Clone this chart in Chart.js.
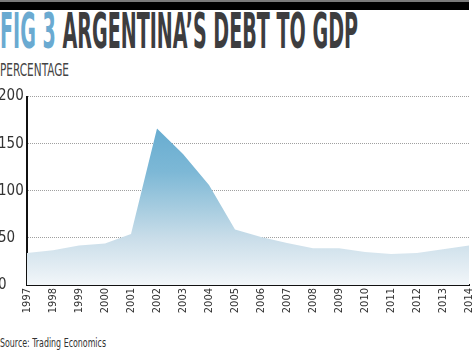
<!DOCTYPE html>
<html>
<head>
<meta charset="utf-8">
<script src="https://cdn.jsdelivr.net/npm/chart.js@4.4.1/dist/chart.umd.min.js"></script>
<style>
  body { margin: 0; width: 474px; height: 351px; overflow: hidden; background: #fff; position: relative;
         font-family: 'Liberation Sans Narrow', 'DejaVu Sans Condensed', 'Roboto', sans-serif; }
  #bar { position: absolute; left: 0; top: 0; width: 469px; height: 8px; border-top: 2px solid #7a7a7a; background: #000; }
  .fit { position: absolute; left: 0; white-space: nowrap; transform-origin: 0 0; }
  #title { top: 5.5px; font-size: 50px; line-height: 50px; font-weight: bold; color: #3d3d3f; }
  #title span { color: #6aaad1; }
  #sub { top: 61px; font-size: 18px; line-height: 18px; color: #444; }
  #source { top: 335.5px; font-size: 13px; line-height: 13px; color: #333; }
  #wrap { position: absolute; left: -2px; top: 85px; width: 476px; height: 235px; }
</style>
</head>
<body>
<div id="bar"></div>
<div id="title" class="fit" data-w="358"><span>FIG 3</span> ARGENTINA’S DEBT TO GDP</div>
<div id="sub" class="fit" data-w="69">PERCENTAGE</div>
<div id="source" class="fit" data-w="106">Source: Trading Economics</div>
<div id="wrap"><canvas id="myChart" width="476" height="235"></canvas></div>

<script>
'use strict';

// values
const years = ['1997', '1998', '1999', '2000', '2001', '2002', '2003', '2004', '2005',
               '2006', '2007', '2008', '2009', '2010', '2011', '2012', '2013', '2014'];
const debtToGdp = [34, 37, 42, 44, 54, 166, 139, 106, 59, 51, 44.5, 39, 39, 35, 33, 34, 38, 42];
const yTicks = [0, 50, 100, 150, 200];

const FONT = "'Liberation Sans Narrow', 'DejaVu Sans Condensed', 'Roboto', sans-serif";

// squeeze the heading texts to the widths in the picture
document.querySelectorAll('.fit').forEach(el => {
    let w = el.getBoundingClientRect().width;
    el.style.transform = 'scaleX(' + (el.dataset.w / w) + ')';
});

function areaFill(context) {
    let area = context.chart.chartArea;
    if (!area) return '#9cc6dd';
    let g = context.chart.ctx.createLinearGradient(0, area.top, 0, area.bottom);
    g.addColorStop(0, '#58a4cc');
    g.addColorStop(0.4, '#7db8d6');
    g.addColorStop(0.6, '#a8cde0');
    g.addColorStop(0.75, '#c9dde9');
    g.addColorStop(1, '#f2f6f9');
    return g;
}

let chartInstance = new Chart(document.getElementById('myChart'), {
    type: 'line',
    data: {
        labels: years,
        datasets: [{
            label: 'Debt to GDP',
            data: debtToGdp,
            fill: 'origin',
            backgroundColor: areaFill,
            borderWidth: 0,
            pointRadius: 0,
            tension: 0
        }]
    },
    options: {
        responsive: false,
        animation: false,
        layout: { padding: { top: 11.5, right: 5, bottom: 0, left: 0 } },
        plugins: { legend: { display: false }, tooltip: { enabled: false } },
        scales: {
            x: {
                z: 1,
                grid: { display: false, drawTicks: false },
                border: { display: true, color: '#111', width: 2 },
                ticks: {
                    autoSkip: false,
                    minRotation: 90,
                    maxRotation: 90,
                    padding: 3,
                    color: '#333',
                    font: { family: FONT, size: 11 }
                },
                afterFit: scale => {
                    scale.height = 35;
                    scale.paddingLeft = 0;
                    scale.paddingRight = 0;
                }
            },
            y: {
                z: 1,
                min: 0,
                max: 200,
                afterBuildTicks: scale => { scale.ticks = yTicks.map(v => ({ value: v })); },
                grid: { color: 'rgba(120,120,120,0.7)', lineWidth: 1, drawTicks: false },
                border: { display: true, color: '#111', width: 2, dash: [1, 1] },
                ticks: {
                    crossAlign: 'far',
                    padding: 0,
                    color: '#333',
                    font: { family: FONT, size: 15 }
                },
                afterFit: scale => { scale.width = 29; }
            }
        }
    }
});
</script>
</body>
</html>
